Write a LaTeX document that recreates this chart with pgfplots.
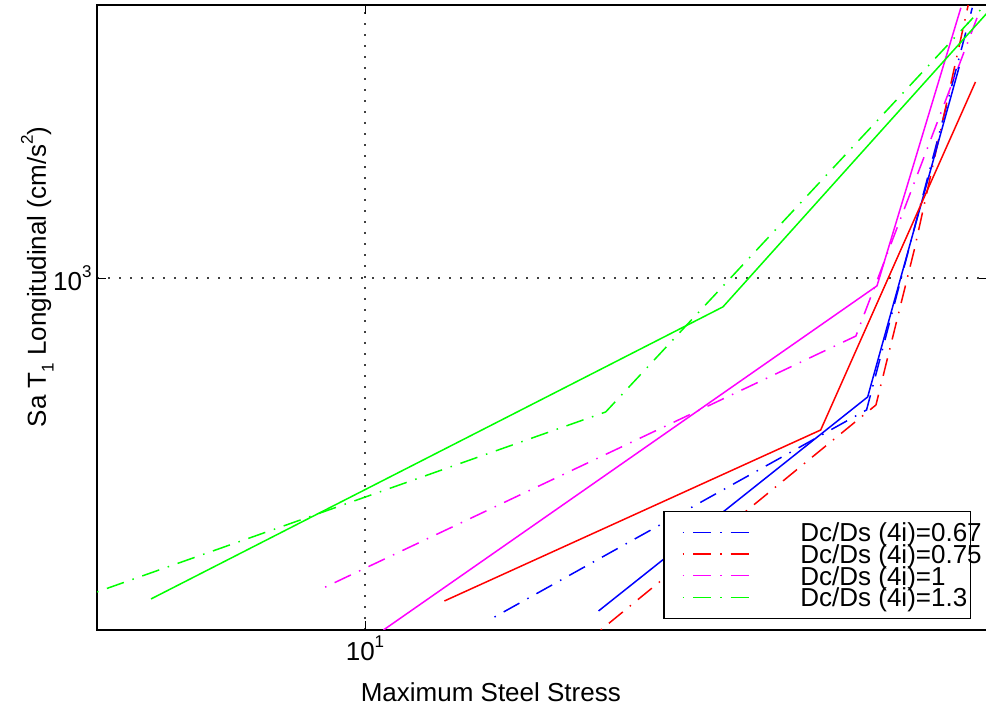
\documentclass[border=0pt]{standalone}
\usepackage{fontspec}
\setmainfont{Liberation Sans}
\usepackage{pgfplots}
\pgfplotsset{compat=1.18}

\definecolor{mblue}{rgb}{0,0,1}
\definecolor{mred}{rgb}{1,0,0}
\definecolor{mmag}{rgb}{1,0,1}
\definecolor{mgreen}{rgb}{0,1,0}

\newcommand\bigfont{\fontsize{26bp}{30bp}\selectfont}
\newcommand\sups[1]{\raisebox{0.5em}{\fontsize{17bp}{17bp}\selectfont #1}}
\newcommand\subs[1]{\raisebox{-0.3em}{\fontsize{17bp}{17bp}\selectfont #1}}
\newcommand\legtxt[1]{\makebox[152bp][l]{\smash{#1}\rule[-1.35bp]{0pt}{21.5bp}}}

\begin{document}
\begin{tikzpicture}
\useasboundingbox (-97bp,-80bp) rectangle (889bp,630bp);
\pgfplotsset{
  dd/.style={line width=1.5bp, dash pattern=on 1.5bp off 9bp on 18bp off 9bp},
  sl/.style={line width=1.5bp},
}
\begin{loglogaxis}[
  scale only axis, width=891bp, height=625bp,
  at={(0,0)}, anchor=south west,
  xmin=5, xmax=50.1, ymin=300, ymax=2545,
  xtick={10}, xticklabels={\mbox{\bigfont 10\sups{1}}},
  ytick={1000}, yticklabels={\mbox{\bigfont 10\sups{3}}},
  minor tick num=0,
  tick align=inside, major tick length=9bp,
  tick style={black, line width=1bp},
  grid=major,
  grid style={black!75, line width=1.2bp, dash pattern=on 1.5bp off 9.5bp},
  axis line style={line width=1.5bp},
  xticklabel style={yshift=-2bp},
  yticklabel style={xshift=-2bp},
  label style={font=\bigfont},
  xlabel={Maximum Steel Stress},
  ylabel={Sa T\subs{1} Longitudinal (cm/s\sups{2})},
  xlabel style={at={(axis description cs:0.442,-0.115)}, anchor=base},
  ylabel style={at={(axis description cs:-0.0574,0.565)}, anchor=base},
  legend style={at={(0.6355,0.1904)}, anchor=north west, draw=black,
    line width=1.3bp, fill=white, inner xsep=18bp, inner ysep=10bp,
    row sep=0pt, column sep=45bp,
    nodes={inner sep=0pt, draw=none, fill=none}, font=\bigfont},
  legend image code/.code={\draw[#1] (0bp,0bp) -- (72bp,0bp);},
  legend cell align=left,
]
% legend: dash-dot series only
\addlegendimage{mblue, dd}
\addlegendentry{\legtxt{Dc/Ds (4i)=0.67}}
\addlegendimage{mred, dd}
\addlegendentry{\legtxt{Dc/Ds (4i)=0.75}}
\addlegendimage{mmag, dd}
\addlegendentry{\legtxt{Dc/Ds (4i)=1}}
\addlegendimage{mgreen, dd}
\addlegendentry{\legtxt{Dc/Ds (4i)=1.3}}
% dash-dot series
\addplot[mblue, dd, forget plot] coordinates {(13.98,313.6) (36.6,636.9) (48.1,2520)};
\addplot[mred, dd, forget plot] coordinates {(18.4,300) (37.5,647.8) (41.4,1101) (47.6,2545)};
\addplot[mmag, dd, forget plot] coordinates {(9.02,347.4) (35.6,820) (48.7,2435)};
\addplot[mgreen, dd, forget plot] coordinates {(5,341.7) (18.64,632.5) (49.6,2537)};
% solid series
\addplot[mblue, sl, forget plot] coordinates {(18.3,320.2) (36.7,665.8) (46.5,2059)};
\addplot[mred, sl, forget plot] coordinates {(12.28,331.3) (32.5,594.6) (48.5,1956)};
\addplot[mmag, sl, forget plot] coordinates {(10.49,300) (37.6,973.6) (46.7,2520)};
\addplot[mgreen, sl, forget plot] coordinates {(5.75,333.6) (25.24,906) (50.1,2485)};
\end{loglogaxis}
\end{tikzpicture}
\end{document}
